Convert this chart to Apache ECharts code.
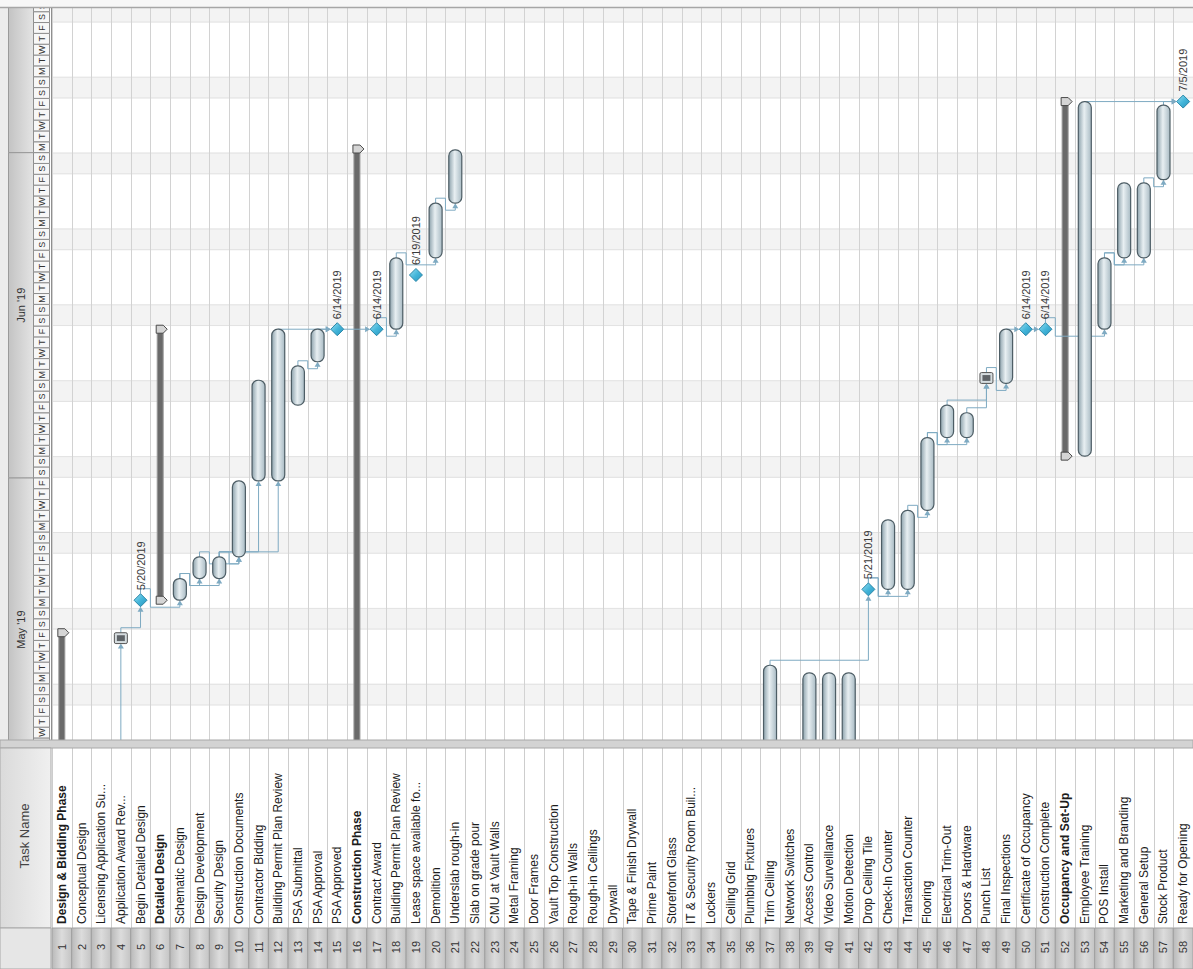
<!DOCTYPE html>
<html>
<head>
<meta charset="utf-8">
<script src="https://cdn.jsdelivr.net/npm/echarts@6/dist/echarts.min.js"></script>
<style>
html,body{margin:0;padding:0;background:#fff;}
#c{width:1193px;height:969px;}
</style>
</head>
<body>
<div id="c"></div>
<script>
// ---------------- DATA ----------------
const taskNames = ["Design & Bidding Phase","Conceptual Design","Licensing Application Su...","Application Award Rev...","Begin Detailed Design","Detailed Design","Schematic Design","Design Development","Security Design","Construction Documents","Contractor Bidding","Building Permit Plan Review","PSA Submittal","PSA Approval","PSA Approved","Construction Phase","Contract Award","Building Permit Plan Review","Lease space available fo...","Demolition","Underslab rough-in","Slab on grade pour","CMU at Vault Walls","Metal Framing","Door Frames","Vault Top Construction","Rough-in Walls","Rough-in Ceilings","Drywall","Tape & Finish Drywall","Prime Paint","Storefront Glass","IT & Security Room Buil...","Lockers","Ceiling Grid","Plumbing Fixtures","Trim Ceiling","Network Switches","Access Control","Video Surveillance","Motion Detection","Drop Ceiling Tile","Check-In Counter","Transaction Counter","Flooring","Electrical Trim-Out","Doors & Hardware","Punch List","Final Inspections","Certificate of Occupancy","Construction Complete","Occupancy and Set-Up","Employee Training","POS Install","Marketing and Branding","General Setup","Stock Product","Ready for Opening"];
const boldRows = [1, 6, 16, 52];

// regular tasks
const taskRows   = [2, 3, 7, 8, 9, 10, 11, 12, 13, 14, 18, 20, 21, 37, 39, 40, 41, 43, 44, 45, 46, 47, 49, 53, 54, 55, 56, 57];
const taskStarts = ["2019-04-22 08:00","2019-05-02 08:00","2019-05-20 17:00","2019-05-22 17:00","2019-05-22 17:00","2019-05-24 17:00","2019-05-31 17:00","2019-05-31 17:00","2019-06-07 17:00","2019-06-11 17:00","2019-06-14 17:00","2019-06-21 07:00","2019-06-26 08:00","2019-05-01 08:00","2019-05-02 08:00","2019-05-02 08:00","2019-05-02 08:00","2019-05-21 17:00","2019-05-21 17:00","2019-05-29 00:00","2019-06-04 17:00","2019-06-04 17:00","2019-06-09 17:00","2019-06-03 00:00","2019-06-14 17:00","2019-06-21 07:00","2019-06-21 07:00","2019-06-28 12:00"];
const taskEnds   = ["2019-05-01 17:00","2019-05-06 17:00","2019-05-22 17:00","2019-05-24 17:00","2019-05-24 17:00","2019-05-31 17:00","2019-06-10 00:00","2019-06-14 17:00","2019-06-11 08:00","2019-06-14 17:00","2019-06-21 07:00","2019-06-26 08:00","2019-07-01 06:00","2019-05-14 17:00","2019-05-14 00:00","2019-05-14 00:00","2019-05-14 00:00","2019-05-28 03:00","2019-05-29 00:00","2019-06-04 17:00","2019-06-07 17:00","2019-06-07 00:00","2019-06-14 17:00","2019-07-05 17:00","2019-06-21 07:00","2019-06-28 05:00","2019-06-28 05:00","2019-07-05 09:00"];

// manually scheduled (box) tasks
const boxRows   = [4, 48];
const boxStarts = ["2019-05-16 17:00","2019-06-09 17:00"];
const boxEnds   = ["2019-05-17 17:00","2019-06-10 17:00"];

// summary tasks
const summaryRows   = [1, 6, 16, 52];
const summaryStarts = ["2019-04-15 08:00","2019-05-20 17:00","2019-04-29 08:00","2019-06-03 00:00"];
const summaryEnds   = ["2019-05-17 17:00","2019-06-14 17:00","2019-07-01 08:00","2019-07-05 17:00"];

// milestones
const milestoneRows  = [5, 15, 17, 19, 42, 50, 51, 58];
const milestoneDates = ["5/20/2019","6/14/2019","6/14/2019","6/19/2019","5/21/2019","6/14/2019","6/14/2019","7/5/2019"];

// dependency links (predecessor row -> successor row)
const linkFrom = [3, 4, 5, 7, 7, 8, 9, 9, 9, 13, 14, 12, 15, 17, 18, 20, 37, 42, 42, 44, 45, 45, 46, 47, 48, 49, 50, 51, 54, 54, 56, 57, 53];
const linkTo   = [4, 5, 7, 8, 9, 10, 10, 11, 12, 14, 15, 15, 17, 18, 20, 21, 42, 43, 44, 45, 46, 47, 48, 48, 49, 50, 51, 54, 55, 56, 57, 58, 58];

// timescale
const viewStart = "2019-05-07 19:30";
const viewEnd   = "2019-07-14 08:10";
const monthStarts = ["2019-05-01", "2019-06-01", "2019-07-01", "2019-08-01"];
const monthLabels = ["May '19", "Jun '19", ""];
const monthLabelAt = ["2019-05-18 00:00", "2019-06-16 22:00", ""];
const dayLetters = ["S", "M", "T", "W", "T", "F", "S"];

// ---------------- HELPERS ----------------
const DAY = 86400000;
function T(s) {
  const parts = s.split(" ");
  const d = parts[0].split("-").map(Number);
  const t = (parts[1] || "00:00").split(":").map(Number);
  return Date.UTC(d[0], d[1] - 1, d[2], t[0], t[1]);
}
function MD(s) { // "5/20/2019" -> finish 17:00
  const p = s.split("/").map(Number);
  return Date.UTC(p[2], p[0] - 1, p[1], 17, 0);
}
const vMin = T(viewStart), vMax = T(viewEnd);
const FONT = '"Liberation Sans", Arial, sans-serif';
const cats = taskNames.map((n, i) => String(i + 1));

const info = {};
taskRows.forEach((r, i) => info[r] = {s: T(taskStarts[i]), e: T(taskEnds[i]), k: "task"});
boxRows.forEach((r, i) => info[r] = {s: T(boxStarts[i]), e: T(boxEnds[i]), k: "box"});
summaryRows.forEach((r, i) => info[r] = {s: T(summaryStarts[i]), e: T(summaryEnds[i]), k: "sum"});
milestoneRows.forEach((r, i) => info[r] = {s: MD(milestoneDates[i]), e: MD(milestoneDates[i]), k: "ms"});

const days = [];
for (let t = Math.floor(vMin / DAY) * DAY; t < vMax; t += DAY) days.push(t);
const weekends = days.filter(t => new Date(t).getUTCDay() === 6);

// ---------------- RENDERERS ----------------
const barFill = new echarts.graphic.LinearGradient(0, 0, 1, 0, [
  {offset: 0, color: "#8ea3ad"}, {offset: 0.45, color: "#e8eff2"}, {offset: 1, color: "#a9bbc4"}
]);
const diaFill = new echarts.graphic.LinearGradient(0, 0, 1, 1, [
  {offset: 0, color: "#9be0f2"}, {offset: 0.5, color: "#44b6da"}, {offset: 1, color: "#2794bd"}
]);
const numFill = new echarts.graphic.LinearGradient(0, 0, 1, 0, [
  {offset: 0, color: "#b9b9b9"}, {offset: 0.5, color: "#dcdcdc"}, {offset: 1, color: "#c4c4c4"}
]);
const LINK = "#7eaac2";
const MS = 6.5;

function renderWeekend(params, api) {
  const cs = params.coordSys;
  const t = api.value(1);
  const y0 = api.coord([0, t])[1], y1 = api.coord([0, t + 2 * DAY])[1];
  return {type: "group", children: [
    {type: "rect", shape: {x: cs.x, y: y1, width: cs.width, height: y0 - y1}, style: {fill: "#f3f3f3"}},
    {type: "line", shape: {x1: cs.x, y1: y0 - 0.5, x2: cs.x + cs.width, y2: y0 - 0.5}, style: {stroke: "#e2e2e2", lineWidth: 1}},
    {type: "line", shape: {x1: cs.x, y1: y1 + 0.5, x2: cs.x + cs.width, y2: y1 + 0.5}, style: {stroke: "#e2e2e2", lineWidth: 1}}
  ]};
}
function renderRowLine(params, api) {
  const cs = params.coordSys;
  const i = api.value(0);
  const bw = api.size([1, 0])[0];
  const x = Math.round(api.coord([i, vMin])[0] - bw / 2) + 0.5;
  return {type: "line", shape: {x1: x, y1: cs.y, x2: x, y2: cs.y + cs.height}, style: {stroke: "#d2d2d2", lineWidth: 1}};
}
function renderTask(params, api) {
  const r = api.value(0);
  const p0 = api.coord([r, api.value(1)]), p1 = api.coord([r, api.value(2)]);
  const w = 13;
  return {type: "rect", shape: {x: p0[0] - w / 2, y: p1[1], width: w, height: p0[1] - p1[1], r: 6},
    style: {fill: barFill, stroke: "#4d5d65", lineWidth: 1.2}};
}
function renderBox(params, api) {
  const r = api.value(0);
  const p0 = api.coord([r, api.value(1)]), p1 = api.coord([r, api.value(2)]);
  const w = 13, h = p0[1] - p1[1];
  return {type: "group", children: [
    {type: "rect", shape: {x: p0[0] - w / 2, y: p1[1], width: w, height: h, r: 1.5}, style: {fill: "#d6dde0", stroke: "#555", lineWidth: 1}},
    {type: "rect", shape: {x: p0[0] - 4, y: p1[1] + 2.5, width: 8, height: h - 5}, style: {fill: "#5f6468"}}
  ]};
}
function renderSummary(params, api) {
  const r = api.value(0);
  const p0 = api.coord([r, api.value(1)]), p1 = api.coord([r, api.value(2)]);
  const x = p0[0];
  const cap = (y) => ({type: "polygon", shape: {points: [[x - 4, y - 4], [x + 3, y - 4], [x + 7, y], [x + 3, y + 4], [x - 4, y + 4]]},
    style: {fill: "#d5d5d5", stroke: "#4a4a4a", lineWidth: 1}});
  return {type: "group", children: [
    {type: "rect", shape: {x: x - 3, y: p1[1], width: 6, height: p0[1] - p1[1]}, style: {fill: "#6a6a6a", stroke: "#9a9a9a", lineWidth: 1}},
    cap(p0[1]), cap(p1[1])
  ]};
}
function renderMilestone(params, api) {
  const r = api.value(0);
  const p = api.coord([r, api.value(1)]);
  const i = params.dataIndex;
  return {type: "group", children: [
    {type: "polygon", shape: {points: [[p[0], p[1] - MS], [p[0] + MS, p[1]], [p[0], p[1] + MS], [p[0] - MS, p[1]]]},
      style: {fill: diaFill, stroke: "#2a87a9", lineWidth: 1}},
    {type: "text", x: p[0], y: p[1] - 10, rotation: Math.PI / 2,
      style: {text: milestoneDates[i], font: "11px " + FONT, fill: "#3a3a3a", align: "left", verticalAlign: "middle"}}
  ]};
}
function renderLink(params, api) {
  const a = api.value(0), b = api.value(1);
  const P = info[a], S = info[b];
  const bw = api.size([1, 0])[0];
  const xP = api.coord([a - 1, vMin])[0], xS = api.coord([b - 1, vMin])[0];
  const yPc = api.coord([0, P.e])[1];
  const ySc = api.coord([0, S.s])[1];
  const yPe = P.k === "ms" ? yPc - MS : yPc;
  const ySs = S.k === "ms" ? ySc + MS : ySc;
  const yc = yPe - 5;
  let pts, head;
  if (ySs <= yc - 3) {
    pts = [[xP, yPe], [xP, yc], [xS, yc], [xS, ySs + 4]];
    head = [[xS, ySs], [xS - 3, ySs + 5], [xS + 3, ySs + 5]];
  } else if (S.k === "ms") {
    // run across at the diamond's level into its near point
    const x0 = P.k === "ms" ? xP + MS : xP;
    const tip = xS - MS;
    pts = P.k === "ms" ? [[x0, ySc], [tip - 4, ySc]] : [[xP, yPe], [xP, ySc], [tip - 4, ySc]];
    head = [[tip, ySc], [tip - 5, ySc - 3], [tip - 5, ySc + 3]];
  } else {
    const xm = xP + bw / 2, yl = ySs + 7;
    pts = [[xP, yPe], [xP, yc], [xm, yc], [xm, yl], [xS, yl], [xS, ySs + 4]];
    head = [[xS, ySs], [xS - 3, ySs + 5], [xS + 3, ySs + 5]];
  }
  return {type: "group", children: [
    {type: "polyline", shape: {points: pts}, style: {stroke: LINK, lineWidth: 1, fill: null}},
    {type: "polygon", shape: {points: head}, style: {fill: LINK}}
  ]};
}
function renderDay(params, api) {
  const cs = params.coordSys;
  const t = api.value(1);
  const y0 = api.coord([0, t])[1], y1 = api.coord([0, t + DAY])[1];
  const letter = dayLetters[new Date(t).getUTCDay()];
  return {type: "group", children: [
    {type: "rect", shape: {x: cs.x + 33.5, y: y1, width: 16, height: y0 - y1}, style: {fill: "#f7f7f7", stroke: "#8f8f8f", lineWidth: 1}},
    {type: "text", x: cs.x + 41.5, y: (y0 + y1) / 2, rotation: Math.PI / 2,
      style: {text: letter, font: "9px " + FONT, fill: "#333", align: "center", verticalAlign: "middle"}}
  ]};
}
const monthFill = new echarts.graphic.LinearGradient(0, 0, 1, 0, [
  {offset: 0, color: "#c3c3c3"}, {offset: 1, color: "#e4e4e4"}
]);
function renderMonth(params, api) {
  const cs = params.coordSys;
  const i = params.dataIndex;
  const y0 = api.coord([0, api.value(1)])[1], y1 = api.coord([0, api.value(2)])[1];
  const ch = [
    {type: "rect", shape: {x: cs.x + 8.5, y: y1, width: 25, height: y0 - y1}, style: {fill: monthFill, stroke: "#9a9a9a", lineWidth: 1}}
  ];
  if (monthLabels[i]) {
    const yl = api.coord([0, T(monthLabelAt[i])])[1];
    ch.push({type: "text", x: cs.x + 21, y: yl, rotation: Math.PI / 2,
      style: {text: monthLabels[i], font: "11px " + FONT, fill: "#333", align: "center", verticalAlign: "middle"}});
  }
  return {type: "group", children: ch};
}
function renderTable(params, api) {
  const cs = params.coordSys;
  const i = api.value(0);
  const bw = api.size([1, 0])[0];
  const xc = api.coord([i, 0])[0];
  const x0 = xc - bw / 2;
  const top = cs.y, nameBottom = cs.y + 180;
  const bold = boldRows.indexOf(i + 1) >= 0;
  return {type: "group", children: [
    {type: "rect", shape: {x: x0, y: top, width: bw, height: 180}, style: {fill: "#fff"}},
    {type: "line", shape: {x1: Math.round(x0) + 0.5, y1: top, x2: Math.round(x0) + 0.5, y2: nameBottom}, style: {stroke: "#cdcdcd", lineWidth: 1}},
    {type: "rect", shape: {x: x0, y: nameBottom, width: bw, height: cs.height - 180}, style: {fill: numFill, stroke: "#a0a0a0", lineWidth: 1}},
    {type: "text", x: xc, y: nameBottom - 4, rotation: Math.PI / 2,
      style: {text: taskNames[i], font: (bold ? "bold " : "") + "12px " + FONT, fill: "#1c1c1c", align: "left", verticalAlign: "middle"}},
    {type: "text", x: xc, y: nameBottom + 19, rotation: Math.PI / 2,
      style: {text: String(i + 1), font: "11px " + FONT, fill: "#333", align: "center", verticalAlign: "middle"}}
  ]};
}

// ---------------- OPTION ----------------
const GL = 52, GW = 1141.44;
const option = {
  animation: false,
  backgroundColor: "#ffffff",
  grid: [
    {left: GL, top: 8, width: GW, height: 732},
    {left: 0, top: 8, width: 52, height: 732},
    {left: GL, top: 748, width: GW, height: 221}
  ],
  xAxis: [
    {type: "category", gridIndex: 0, data: cats, show: false},
    {type: "value", gridIndex: 1, min: 0, max: 52, show: false},
    {type: "category", gridIndex: 2, data: cats, show: false}
  ],
  yAxis: [
    {type: "value", gridIndex: 0, min: vMin, max: vMax, show: false},
    {type: "value", gridIndex: 1, min: vMin, max: vMax, show: false},
    {type: "value", gridIndex: 2, min: 0, max: 1, show: false}
  ],
  graphic: [
    {type: "rect", left: 0, top: 0, shape: {width: 1193, height: 8}, style: {fill: "#f7f7f7"}, z: 0},
    {type: "line", shape: {x1: 0, y1: 7.5, x2: 1193, y2: 7.5}, style: {stroke: "#a6a6a6", lineWidth: 1.5}, z: 100},
    {type: "rect", shape: {x: 0, y: 8, width: 8, height: 732}, style: {fill: "#ececec"}, z: 0},
    {type: "line", shape: {x1: 51.5, y1: 8, x2: 51.5, y2: 740}, style: {stroke: "#8f8f8f", lineWidth: 1}, z: 100},
    {type: "rect", shape: {x: 0, y: 740, width: 1193, height: 8}, style: {fill: "#d3d3d3", stroke: "#a8a8a8", lineWidth: 1}, z: 100},
    {type: "rect", shape: {x: 0, y: 748, width: 51, height: 180},
      style: {fill: new echarts.graphic.LinearGradient(0, 0, 1, 0, [{offset: 0, color: "#dadada"}, {offset: 1, color: "#f0f0f0"}]), stroke: "#a8a8a8", lineWidth: 1}, z: 100},
    {type: "rect", shape: {x: 0, y: 928, width: 51, height: 41}, style: {fill: "#e6e6e6", stroke: "#a8a8a8", lineWidth: 1}, z: 100},
    {type: "text", x: 24, y: 836, rotation: Math.PI / 2,
      style: {text: "Task Name", font: "13px " + FONT, fill: "#444", align: "center", verticalAlign: "middle"}, z: 101}
  ],
  series: [
    {type: "custom", name: "weekends", xAxisIndex: 0, yAxisIndex: 0, data: weekends.map(t => [0, t]), renderItem: renderWeekend, clip: true, silent: true, z: 1},
    {type: "custom", name: "rows", xAxisIndex: 0, yAxisIndex: 0, data: taskNames.map((n, i) => [i, vMin]), renderItem: renderRowLine, silent: true, z: 2},
    {type: "custom", name: "summary", xAxisIndex: 0, yAxisIndex: 0,
      data: summaryRows.map((r, i) => [r - 1, T(summaryStarts[i]), T(summaryEnds[i])]), renderItem: renderSummary, clip: true, z: 3},
    {type: "custom", name: "links", xAxisIndex: 0, yAxisIndex: 0,
      data: linkFrom.map((a, i) => [a, linkTo[i]]), renderItem: renderLink, clip: true, silent: true, z: 4},
    {type: "custom", name: "tasks", xAxisIndex: 0, yAxisIndex: 0,
      data: taskRows.map((r, i) => [r - 1, T(taskStarts[i]), T(taskEnds[i])]), renderItem: renderTask, clip: true, z: 5},
    {type: "custom", name: "manual", xAxisIndex: 0, yAxisIndex: 0,
      data: boxRows.map((r, i) => [r - 1, T(boxStarts[i]), T(boxEnds[i])]), renderItem: renderBox, clip: true, z: 5},
    {type: "custom", name: "milestones", xAxisIndex: 0, yAxisIndex: 0,
      data: milestoneRows.map((r, i) => [r - 1, MD(milestoneDates[i])]), renderItem: renderMilestone, clip: true, z: 6},
    {type: "custom", name: "months", xAxisIndex: 1, yAxisIndex: 1,
      data: monthStarts.slice(0, 3).map((m, i) => [0, T(m), T(monthStarts[i + 1])]), renderItem: renderMonth, clip: true, z: 3},
    {type: "custom", name: "days", xAxisIndex: 1, yAxisIndex: 1,
      data: days.map(t => [0, t]), renderItem: renderDay, clip: true, z: 3},
    {type: "custom", name: "table", xAxisIndex: 2, yAxisIndex: 2,
      data: taskNames.map((n, i) => [i, 0]), renderItem: renderTable, z: 3}
  ]
};
const chart = echarts.init(document.getElementById("c"), null, {renderer: "svg"});
chart.setOption(option);
</script>
</body>
</html>
